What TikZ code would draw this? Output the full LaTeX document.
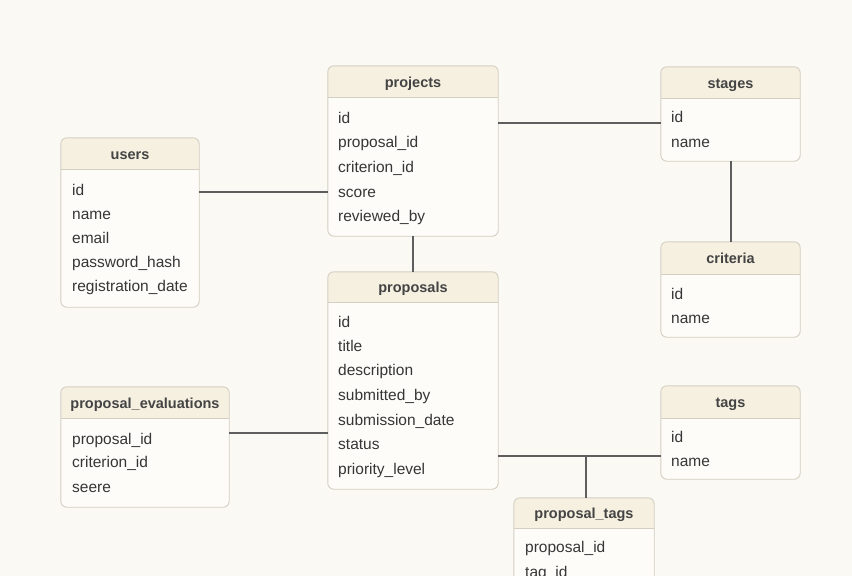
\documentclass[tikz,border=0pt]{standalone}
\usepackage{fontspec}
\setmainfont{Liberation Sans}
\definecolor{bgc}{HTML}{FAF9F3}
\definecolor{bodyc}{HTML}{FDFCF8}
\definecolor{hdrc}{HTML}{F5F0E0}
\definecolor{bordc}{HTML}{D4CFC2}
\definecolor{linec}{HTML}{5E5E5E}
\definecolor{txtc}{HTML}{363636}
\definecolor{ttlc}{HTML}{444444}
\newcommand\erbox[7]{%
  \node[tblbody, minimum width={#4-#2}, minimum height={#6-#3}] (#1) at ({(#2+#4)/2},{(#3+#6)/2}) {};
  \fill[hdrc] (#2,#5) [rounded corners=6pt] -- (#2,#3) -- (#4,#3) [sharp corners] -- (#4,#5) -- cycle;
  \draw[bordc, line width=0.9pt] (#2,#5) -- (#4,#5);
  \draw[bordc, line width=0.9pt, rounded corners=6pt] (#1.south west) rectangle (#1.north east);
  \node[ttl] (#1-title) at ({(#2+#4)/2},{(#3+#5)/2+5.5}) {#7};
}
\newcommand\errow[4]{% name, x, y, text
  \node[rowtxt] (#1) at (#2,#3+5.5) {#4};
}
\begin{document}
\begin{tikzpicture}[x=1pt,y=-1pt,
  tblbody/.style={rectangle, fill=bodyc, inner sep=0pt, rounded corners=6pt},
  ttl/.style={font=\fontsize{14.5}{17}\selectfont\bfseries, text=ttlc, inner sep=0pt, anchor=base},
  rowtxt/.style={font=\fontsize{15.5}{18}\selectfont, text=txtc, anchor=base west, inner sep=0pt},
  conn/.style={draw=linec, line width=1.1pt}]
\fill[bgc] (0,0) rectangle (852,576);
\useasboundingbox (0,0) rectangle (852,576);
\clip (0,0) rectangle (852,576);

% users
\erbox{users}{61}{138}{199}{169}{307}{users}
\errow{u1}{72}{190}{id}
\errow{u2}{72}{214}{name}
\errow{u3}{72}{238}{email}
\errow{u4}{72}{262}{password\_hash}
\errow{u5}{72}{286}{registration\_date}

% projects
\erbox{projects}{328}{66}{498}{97}{236}{projects}
\errow{p1}{338}{118}{id}
\errow{p2}{338}{142}{proposal\_id}
\errow{p3}{338}{167}{criterion\_id}
\errow{p4}{338}{192}{score}
\errow{p5}{338}{216}{reviewed\_by}

% stages
\erbox{stages}{661}{67}{800}{98}{161}{stages}
\errow{s1}{671}{117}{id}
\errow{s2}{671}{142}{name}

% criteria
\erbox{criteria}{661}{242}{800}{274}{337}{criteria}
\errow{c1}{671}{294}{id}
\errow{c2}{671}{318}{name}

% proposals
\erbox{proposals}{328}{272}{498}{302}{489}{proposals}
\errow{r1}{338}{322}{id}
\errow{r2}{338}{346}{title}
\errow{r3}{338}{370}{description}
\errow{r4}{338}{395}{submitted\_by}
\errow{r5}{338}{420}{submission\_date}
\errow{r6}{338}{444}{status}
\errow{r7}{338}{469}{priority\_level}

% proposal_evaluations
\erbox{evals}{61}{387}{229}{418}{507}{proposal\_evaluations}
\errow{e1}{72}{439}{proposal\_id}
\errow{e2}{72}{462}{criterion\_id}
\errow{e3}{72}{487}{seere}

% tags
\erbox{tags}{661}{386}{800}{418}{479}{tags}
\errow{t1}{671}{437}{id}
\errow{t2}{671}{461}{name}

% proposal_tags
\erbox{ptags}{514}{498}{654}{528}{640}{proposal\_tags}
\errow{g1}{525}{547}{proposal\_id}
\errow{g2}{525}{572}{tag\_id}

% connectors
\coordinate (yu) at (0,192);
\coordinate (ys) at (0,123);
\coordinate (xp) at (413,0);
\coordinate (xc) at (731,0);
\coordinate (ye) at (0,433);
\coordinate (yt) at (0,456);
\coordinate (jt) at (586,456);
\draw[conn] (users.east |- yu) -- (projects.west |- yu);
\draw[conn] (projects.east |- ys) -- (stages.west |- ys);
\draw[conn] (projects.south -| xp) -- (proposals.north -| xp);
\draw[conn] (stages.south -| xc) -- (criteria.north -| xc);
\draw[conn] (evals.east |- ye) -- (proposals.west |- ye);
\draw[conn] (proposals.east |- yt) -- (tags.west |- yt);
\draw[conn] (jt) -- (ptags.north -| jt);
\end{tikzpicture}
\end{document}
